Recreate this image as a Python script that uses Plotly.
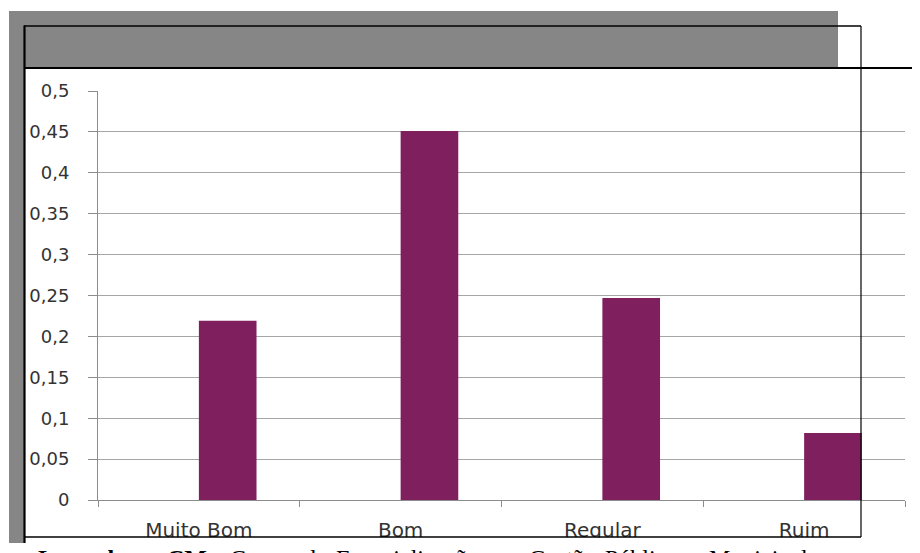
import plotly.graph_objects as go

categories = ["Muito Bom", "Bom", "Regular", "Ruim"]
empty_series = [None, None, None, None]
values = [0.219, 0.451, 0.247, 0.082]
y_tick_vals = [0, 0.05, 0.1, 0.15, 0.2, 0.25, 0.3, 0.35, 0.4, 0.45, 0.5]
y_tick_text = ["0", "0,05", "0,1", "0,15", "0,2", "0,25", "0,3", "0,35", "0,4", "0,45", "0,5"]
legend_words = ["<b>Legenda:</b>", "<b>CM</b>", "–", "Curso", "de", "Especialização",
                "em", "Gestão", "Pública", "Municipal"]
legend_word_px = [36, 165, 211, 228, 302, 334, 490, 527, 603, 707]

W, H = 920, 553
OFF = 8  # page body margin of the browser
PL, PR, PT, PB = 98, 905, 91, 500  # plot area in screen pixels


def xp(px):
    return (px - PL) / (PR - PL)


def yp(py):
    return (PB - py) / (PB - PT)


fig = go.Figure()
fig.add_trace(go.Bar(x=categories, y=empty_series, marker_color="#4F81BD", showlegend=False))
fig.add_trace(go.Bar(x=categories, y=values, marker=dict(color="#7F1F5E", line=dict(width=0)),
                     showlegend=False))

shapes = []
# gray frame
shapes.append(dict(type="rect", xref="paper", yref="paper", layer="below",
                   x0=xp(9), x1=xp(838), y0=yp(543), y1=yp(11),
                   fillcolor="#868686", line=dict(width=0)))
# white area
shapes.append(dict(type="rect", xref="paper", yref="paper", layer="below",
                   x0=xp(25), x1=xp(930), y0=yp(560), y1=yp(69),
                   fillcolor="#FFFFFF", line=dict(width=0)))
# white cover below bottom border (clips category labels)
shapes.append(dict(type="rect", xref="paper", yref="paper", layer="above",
                   x0=xp(25), x1=xp(930), y0=yp(560), y1=yp(537.5),
                   fillcolor="#FFFFFF", line=dict(width=0)))
# black thin frame
shapes.append(dict(type="line", xref="paper", yref="paper", layer="above",
                   x0=xp(24), x1=xp(861), y0=yp(26), y1=yp(26),
                   line=dict(color="#000000", width=1.5)))
shapes.append(dict(type="line", xref="paper", yref="paper", layer="above",
                   x0=xp(861), x1=xp(861), y0=yp(26), y1=yp(537),
                   line=dict(color="#000000", width=1.2)))
shapes.append(dict(type="line", xref="paper", yref="paper", layer="above",
                   x0=xp(24), x1=xp(861), y0=yp(537), y1=yp(537),
                   line=dict(color="#000000", width=1.5)))
shapes.append(dict(type="line", xref="paper", yref="paper", layer="above",
                   x0=xp(24.5), x1=xp(24.5), y0=yp(25.5), y1=yp(543),
                   line=dict(color="#000000", width=2.2)))
# thick horizontal line
shapes.append(dict(type="line", xref="paper", yref="paper", layer="above",
                   x0=xp(24), x1=xp(930), y0=yp(68), y1=yp(68),
                   line=dict(color="#000000", width=2)))

annotations = []
for word, px in zip(legend_words, legend_word_px):
    annotations.append(dict(text=word, xref="paper", yref="paper", x=xp(px), y=yp(542.5),
                            xanchor="left", yanchor="top", showarrow=False,
                            font=dict(family="Liberation Serif", size=24, color="#000000")))

fig.update_layout(
    width=W, height=H,
    margin=dict(l=PL - OFF, r=W - (PR - OFF), t=PT - OFF, b=H - (PB - OFF), pad=0),
    paper_bgcolor="#FFFFFF",
    plot_bgcolor="rgba(0,0,0,0)",
    barmode="group",
    bargap=1.5 / 3.5,
    bargroupgap=0,
    showlegend=False,
    shapes=shapes,
    annotations=annotations,
    xaxis=dict(
        type="category", range=[-0.5, 3.5],
        showline=True, linecolor="#8C8C8C", linewidth=1,
        ticks="outside", tickson="boundaries", ticklen=6, tickcolor="#8C8C8C",
        showgrid=False, ticklabelstandoff=12,
        tickfont=dict(family="DejaVu Sans", size=20, color="#333333"),
    ),
    yaxis=dict(
        range=[0, 0.5], tickvals=y_tick_vals, ticktext=y_tick_text,
        showline=True, linecolor="#8C8C8C", linewidth=1,
        ticks="outside", ticklen=9, tickcolor="#8C8C8C",
        showgrid=True, gridcolor="#A6A6A6", gridwidth=1,
        zeroline=False, ticklabelstandoff=15,
        tickfont=dict(family="DejaVu Sans", size=18, color="#333333"),
    ),
)

fig.write_html("out.html")
